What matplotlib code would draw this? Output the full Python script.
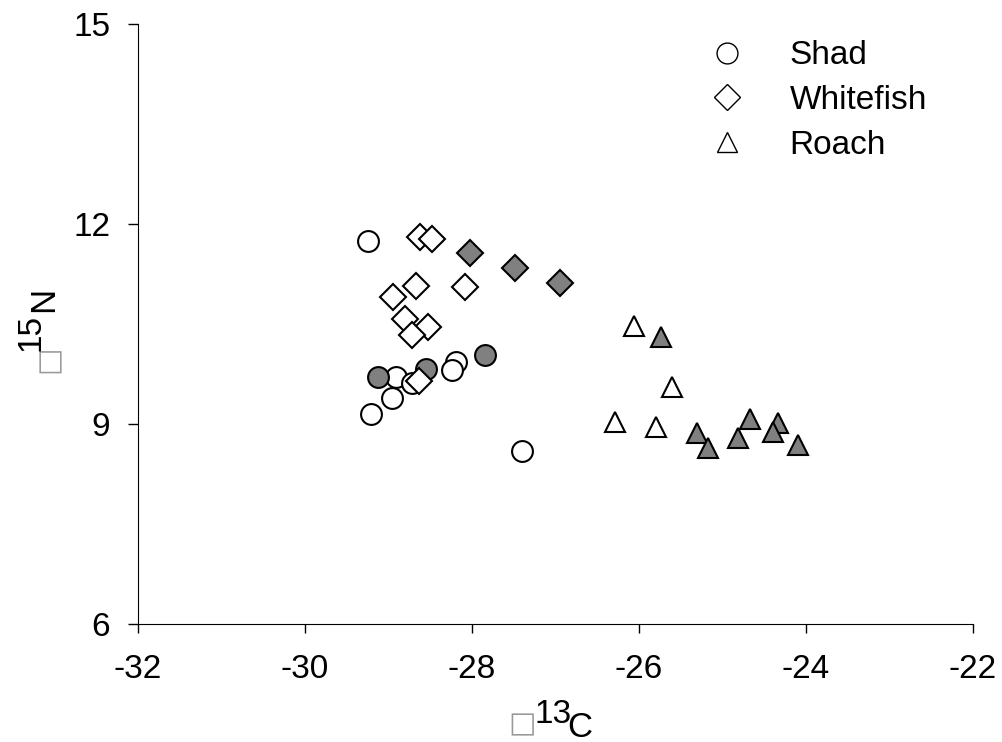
import matplotlib
matplotlib.use("Agg")
import matplotlib.pyplot as plt
from matplotlib.lines import Line2D

plt.rcParams["font.family"] = ["Liberation Sans", "DejaVu Sans"]
plt.rcParams["axes.unicode_minus"] = False

# Shad (circles)
shad_open_x = [-29.25, -28.19, -28.24, -28.91, -28.72, -28.96, -29.21, -27.40]
shad_open_y = [11.75, 9.93, 9.81, 9.71, 9.62, 9.39, 9.15, 8.60]
shad_fill_x = [-27.84, -28.55, -29.13]
shad_fill_y = [10.03, 9.82, 9.71]

# Whitefish (diamonds)
white_open_x = [-28.62, -28.48, -28.67, -28.08, -28.94, -28.80, -28.53, -28.72, -28.64]
white_open_y = [11.80, 11.78, 11.07, 11.05, 10.90, 10.57, 10.46, 10.34, 9.65]
white_fill_x = [-28.02, -27.48, -26.94]
white_fill_y = [11.56, 11.34, 11.11]

# Roach (triangles)
roach_open_x = [-26.06, -25.61, -26.29, -25.79]
roach_open_y = [10.47, 9.55, 9.03, 8.95]
roach_fill_x = [-25.73, -25.31, -25.17, -24.67, -24.81, -24.33, -24.39, -24.10]
roach_fill_y = [10.30, 8.87, 8.64, 9.08, 8.79, 9.02, 8.88, 8.69]

species = ["Shad", "Whitefish", "Roach"]
x_ticks = [-32, -30, -28, -26, -24, -22]
y_ticks = [6, 9, 12, 15]

GRAY = "#808080"
BOX = "\u25a1"  # the delta sign shows up as an empty box in the original

fig = plt.figure(figsize=(10.02, 7.42), dpi=100)
ax = fig.add_axes([0.1377, 0.159, 0.8333, 0.8087])

kw = dict(linestyle="none", markeredgecolor="black", markeredgewidth=1.5)
ax.plot(shad_open_x, shad_open_y, "o", ms=15, mfc="white", **kw)
ax.plot(shad_fill_x, shad_fill_y, "o", ms=15, mfc=GRAY, **kw)
ax.plot(white_open_x, white_open_y, "D", ms=13, mfc="white", **kw)
ax.plot(white_fill_x, white_fill_y, "D", ms=13, mfc=GRAY, **kw)
ax.plot(roach_open_x, roach_open_y, "^", ms=15, mfc="white", **kw)
ax.plot(roach_fill_x, roach_fill_y, "^", ms=15, mfc=GRAY, **kw)

ax.set_xlim(-32, -22)
ax.set_ylim(6, 15)
ax.set_xticks(x_ticks)
ax.set_yticks(y_ticks)
ax.tick_params(labelsize=24, width=1, direction="out")
ax.tick_params(axis="x", length=6.5, pad=15)
ax.tick_params(axis="y", length=7, pad=13)
for side in ["top", "right"]:
    ax.spines[side].set_visible(False)

# x label: box, raised "13", then "C"
pix = dict(textcoords="offset pixels", annotation_clip=False)
ax.annotate(BOX, xy=(0.5, 0), xycoords="axes fraction", xytext=(-33, -100),
            ha="center", va="center", fontsize=21, color="#999999",
            family="DejaVu Sans", **pix)
ax.annotate("13", xy=(0.5, 0), xycoords="axes fraction", xytext=(-21, -99),
            ha="left", va="baseline", fontsize=24, **pix)
ax.annotate("C", xy=(0.5, 0), xycoords="axes fraction", xytext=(12, -113),
            ha="left", va="baseline", fontsize=25, **pix)

# y label, rotated the same way
ax.annotate(BOX, xy=(0, 0.5), xycoords="axes fraction", xytext=(-89, -35),
            ha="center", va="center", fontsize=21, color="#999999",
            family="DejaVu Sans", rotation=90, **pix)
ax.annotate("15", xy=(0, 0.5), xycoords="axes fraction", xytext=(-98, -27),
            ha="left", va="baseline", fontsize=24, rotation=90,
            rotation_mode="anchor", **pix)
ax.annotate("N", xy=(0, 0.5), xycoords="axes fraction", xytext=(-85, 12),
            ha="left", va="baseline", fontsize=25, rotation=90,
            rotation_mode="anchor", **pix)

handles = [
    Line2D([], [], marker="o", ls="none", ms=15, mfc="white", mec="black", mew=1),
    Line2D([], [], marker="D", ms=13, ls="none", mfc="white", mec="black", mew=1),
    Line2D([], [], marker="^", ms=15, ls="none", mfc="white", mec="black", mew=1),
]
ax.legend(handles, species, loc="upper left",
          bbox_to_anchor=(0.666, 0.973), frameon=False, fontsize=24,
          handlelength=2, handletextpad=0.86, labelspacing=0.41,
          borderpad=0, borderaxespad=0)

fig.savefig("out.png", dpi=100)
